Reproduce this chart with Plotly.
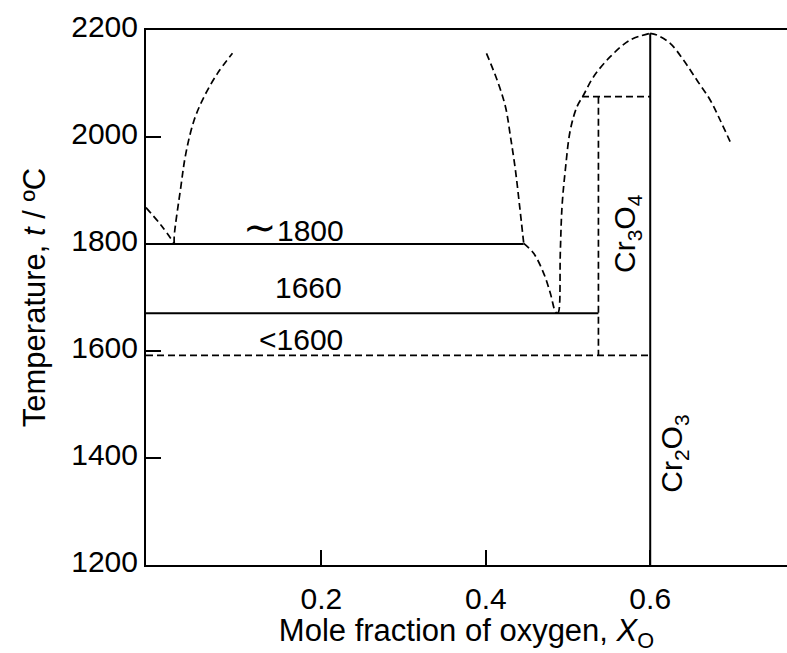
import plotly.graph_objects as go

# ---- data (mole fraction of oxygen, temperature in °C) ----
liq_left_x = [-0.0134, 0.005, 0.021]
liq_left_t = [1868, 1835, 1801]

liq_cr_x = [0.021, 0.0209, 0.029, 0.0351, 0.0452, 0.0573, 0.0736, 0.0918]
liq_cr_t = [1801, 1813.6, 1907, 1969.5, 2031.8, 2075.4, 2119, 2156.4]

gap_right_x = [0.4008, 0.4137, 0.4239, 0.4300, 0.4360, 0.4412, 0.4461]
gap_right_t = [2156.4, 2106.5, 2056.6, 2000.6, 1938.3, 1869.7, 1801.3]

liq_mid_x = [0.4461, 0.4582, 0.4704, 0.4785, 0.4846, 0.4870]
liq_mid_t = [1801.3, 1782.6, 1745.2, 1707.9, 1673.5, 1670.5]

liq_ox_x = [0.4870, 0.4886, 0.4906, 0.4927, 0.4967, 0.5028, 0.5109, 0.5189, 0.5311, 0.5514, 0.5757, 0.6]
liq_ox_t = [1670.5, 1673.5, 1782.6, 1869.7, 1938.3, 2013.1, 2056.6, 2078.5, 2112.7, 2150.1, 2181.3, 2193.8]

liq_hi_x = [0.6, 0.6081, 0.6243, 0.6404, 0.6567, 0.6729, 0.6850, 0.6972]
liq_hi_t = [2193.8, 2190.7, 2175.1, 2143.9, 2106.5, 2069.2, 2031.8, 1991.2]

monotectic_x = [-0.0134, 0.446]
monotectic_t = [1800, 1800]

eutectic_x = [-0.0134, 0.537]
eutectic_t = [1670.5, 1670.5]

decomp_x = [-0.0134, 0.6]
decomp_t = [1592, 1592]

cr3o4_top_x = [0.517, 0.6]
cr3o4_top_t = [2075.4, 2075.4]
cr3o4_side_x = [0.537, 0.537]
cr3o4_side_t = [2075.4, 1592]

cr2o3_x = [0.6, 0.6]
cr2o3_t = [1200, 2193.8]

x_ticks = [0.2, 0.4, 0.6]
y_ticks = [1200, 1400, 1600, 1800, 2000, 2200]

labels = [
    ("<span style='font-size:40px'>\u223c</span>1800", 0.1657, 1832),
    ("1660", 0.184, 1718),
    ("<1600", 0.175, 1621),
]
phases = [
    ("Cr<sub>3</sub>O<sub>4</sub>", 0.572, 1819),
    ("Cr<sub>2</sub>O<sub>3</sub>", 0.629, 1408),
]

FONT = "Liberation Sans, Arial, sans-serif"
fig = go.Figure()

dash = dict(color="black", width=1.7, dash="7px,4px")
solid = dict(color="black", width=2)

for xs, ts in [(liq_left_x, liq_left_t), (liq_cr_x, liq_cr_t), (gap_right_x, gap_right_t),
               (liq_mid_x, liq_mid_t), (liq_ox_x, liq_ox_t), (liq_hi_x, liq_hi_t),
               (decomp_x, decomp_t), (cr3o4_top_x, cr3o4_top_t), (cr3o4_side_x, cr3o4_side_t)]:
    fig.add_trace(go.Scatter(x=xs, y=ts, mode="lines", line=dash, line_shape="spline",
                             hoverinfo="skip", showlegend=False))

for xs, ts in [(monotectic_x, monotectic_t), (eutectic_x, eutectic_t), (cr2o3_x, cr2o3_t)]:
    fig.add_trace(go.Scatter(x=xs, y=ts, mode="lines", line=solid,
                             hoverinfo="skip", showlegend=False))

for text, x, t in labels:
    fig.add_annotation(x=x, y=t, text=text, showarrow=False,
                       font=dict(family=FONT, size=30, color="black"))
for text, x, t in phases:
    fig.add_annotation(x=x, y=t, text=text, showarrow=False, textangle=-90,
                       font=dict(family=FONT, size=30, color="black"))

fig.update_layout(
    width=787, height=653,
    margin=dict(l=146, r=0, t=30, b=88),
    paper_bgcolor="white", plot_bgcolor="white",
    font=dict(family=FONT, size=30, color="black"),
)
fig.update_xaxes(
    range=[-0.0134, 0.7664], tickvals=x_ticks, ticktext=[f"{v:.1f}" for v in x_ticks],
    ticks="inside", ticklen=15, tickwidth=2, tickcolor="black",
    showline=True, linecolor="black", linewidth=2, mirror=True,
    showgrid=False, zeroline=False, ticklabelstandoff=6,
    tickfont=dict(family=FONT, size=30),
    title=dict(text="Mole fraction of oxygen, <i>X</i><sub>O</sub>", standoff=2,
               font=dict(family=FONT, size=31)),
)
fig.update_yaxes(
    range=[1200, 2200], tickvals=y_ticks, ticktext=[str(v) for v in y_ticks],
    ticks="inside", ticklen=15, tickwidth=2, tickcolor="black",
    showline=True, linecolor="black", linewidth=2, mirror=False,
    showgrid=False, zeroline=False, ticklabelshift=-4,
    tickfont=dict(family=FONT, size=30),
    title=dict(text="Temperature, <i>t</i> / ºC", standoff=16,
               font=dict(family=FONT, size=31)),
)

fig.write_html("out.html")
